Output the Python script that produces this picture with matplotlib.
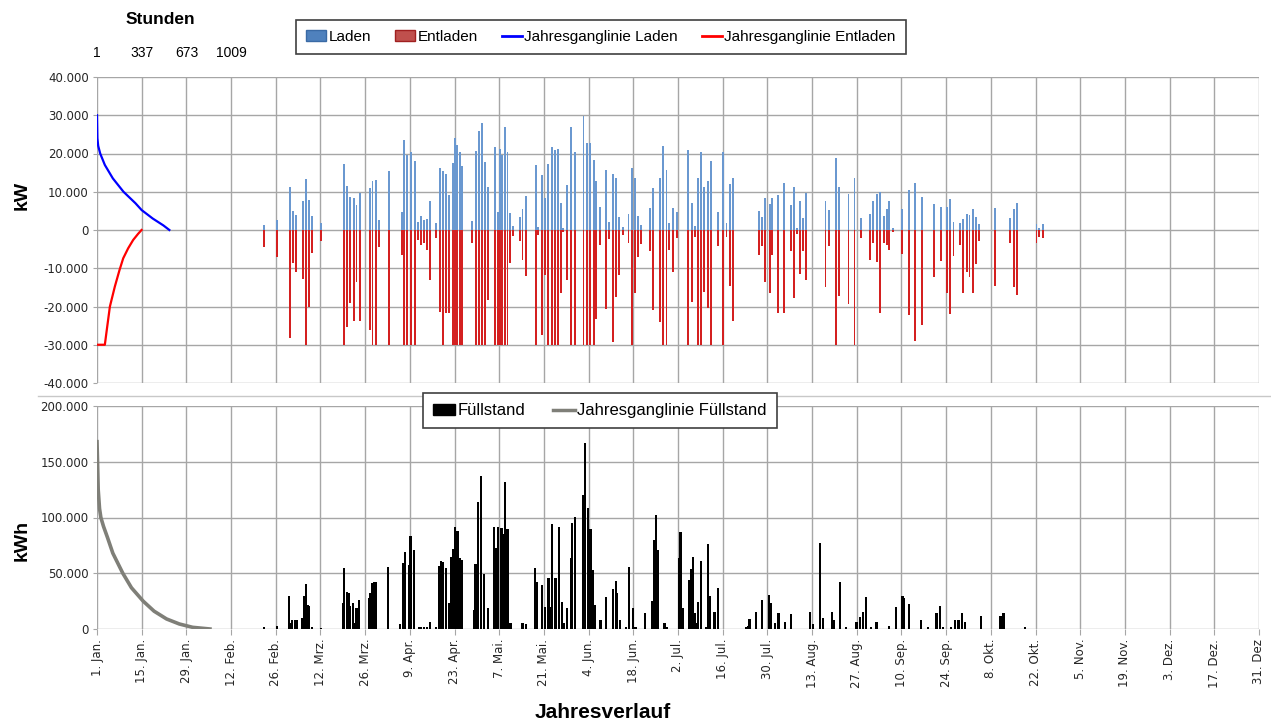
import matplotlib
matplotlib.use("Agg")
import matplotlib.pyplot as plt
from matplotlib.patches import Patch
from matplotlib.lines import Line2D
import numpy as np

# --- Daten ---
tick_labels = ["1. Jan.", "15. Jan.", "29. Jan.", "12. Feb.", "26. Feb.", "12. Mrz.", "26. Mrz.",
               "9. Apr.", "23. Apr.", "7. Mai.", "21. Mai.", "4. Jun.", "18. Jun.", "2. Jul.",
               "16. Jul.", "30. Jul.", "13. Aug.", "27. Aug.", "10. Sep.", "24. Sep.", "8. Okt.",
               "22. Okt.", "5. Nov.", "19. Nov.", "3. Dez.", "17. Dez.", "31. Dez"]
stunden_ticks = [1, 337, 673, 1009]

# Laden / Entladen je Tag (kW)
lade_tag = [52.4, 56.5, 60.5, 61.5, 62.4, 64.5, 65.5, 66.5, 67.3, 70.3, 77.4, 78.3, 79.2, 80.4,
            81.3, 82.5, 85.5, 86.3, 87.4, 88.4, 91.4, 95.4, 96.2, 97.2, 98.5, 99.5, 100.6, 101.4,
            102.4, 103.4, 104.3, 106.2, 107.5, 108.3, 109.3, 110.3, 111.4, 112.2, 112.7, 113.6,
            114.4, 117.6, 118.6, 119.6, 120.6, 121.6, 122.5, 124.6, 125.6, 126.2, 126.9, 127.7,
            128.6, 129.5, 130.3, 132.4, 133.3, 134.3, 137.4, 138.2, 139.3, 140.2, 141.2, 142.4,
            143.5, 144.5, 145.3, 146.1, 147.2, 148.5, 149.6, 152.4, 153.5, 154.5, 155.6, 156.4,
            157.5, 159.5, 160.4, 161.6, 162.5, 163.5, 164.7, 166.5, 167.5, 168.6, 169.4, 170.4,
            173.2, 174.3, 176.3, 177.4, 178.4, 179.3, 180.3, 181.6, 185.2, 186.3, 187.3, 188.4,
            189.2, 190.2, 191.3, 192.3, 194.4, 196.2, 197.2, 198.3, 199.1, 207.5, 208.2, 209.2,
            210.8, 211.5, 213.3, 215.3, 217.3, 218.3, 219.4, 220.2, 221.2, 222.1, 228.2, 229.2,
            231.4, 232.4, 235.4, 237.3, 239.3, 242.2, 243.2, 244.3, 245.3, 246.4, 247.4, 248.2,
            249.3, 252.3, 254.4, 256.3, 258.4, 262.2, 264.3, 266.2, 267.3, 268.3, 270.4, 271.2,
            272.5, 273.3, 274.3, 275.4, 276.3, 281.3, 286.0, 287.2, 288.3, 294.3, 295.1, 296.2]
laden_kw = [1300, 2600, 11200, 5000, 3900, 7700, 13300, 7800, 3700, 1700, 17200, 11500, 8500, 8300,
            6500, 9600, 10900, 12900, 13200, 2600, 15300, 4800, 23500, 19600, 20500, 18100, 2200, 3700,
            2600, 2800, 7700, 1700, 16100, 15300, 14600, 9100, 17600, 24000, 22200, 20500,
            16700, 2400, 20700, 26000, 27900, 17900, 11200, 21600, 4800, 21100, 19600, 27000,
            20500, 4500, 1000, 3500, 5400, 8900, 17000, 800, 14300, 8300, 17200, 21800,
            20900, 21300, 7100, 500, 11800, 26800, 20500, 29800, 22800, 22800, 18300, 12700,
            6100, 15800, 2200, 14600, 13500, 3500, 800, 4200, 16300, 13500, 3700, 1300,
            5800, 10900, 13500, 22000, 15700, 1700, 5700, 4800, 20900, 7100, 1000, 13500,
            20500, 11300, 12900, 18100, 4700, 20500, 1700, 12100, 13500, 5000, 3500, 8300,
            6800, 8300, 9100, 12200, 6500, 11200, 500, 7700, 3100, 9600, 7700, 5200,
            18700, 11200, 9400, 13500, 3100, 4200, 7700, 9400, 10000, 3700, 5400, 7700,
            500, 5400, 10500, 12400, 8500, 6800, 5900, 6100, 8000, 2200, 1900, 2800,
            4200, 3900, 5400, 3500, 1600, 5700, 3100, 5400, 7000, 1600, 500, 1600]
entladen_kw = [-4500, -7000, -28300, -8700, -10900, -12900, -30000, -20000, -6100, -2800, -30000, -25300, -19000, -23700,
               -13700, -23700, -26100, -30000, -30000, -4400, -30000, -6500, -30000, -30000, -30000, -30000, -2600, -3900,
               -3500, -5200, -13200, -2200, -21400, -30000, -21800, -21800, -30000, -30000, -30000, -30000,
               -30000, -3500, -30000, -30000, -30000, -30000, -18400, -30000, -30000, -30000, -30000, -30000,
               -30000, -8700, -1500, -3000, -7800, -11900, -30000, -1200, -27400, -11700, -30000, -30000,
               -30000, -30000, -16500, -500, -13000, -30000, -30000, -30000, -30000, -30000, -30000, -23300,
               -3900, -20700, -2400, -29400, -17500, -11700, -1300, -3500, -30000, -16500, -7000, -3700,
               -5400, -20900, -24000, -30000, -30000, -5200, -10900, -2200, -30000, -18900, -1700, -30000,
               -30000, -16100, -20500, -30000, -4200, -30000, -1700, -14600, -23700, -6500, -4200, -13700,
               -16600, -6500, -21600, -21600, -5400, -17800, -1000, -11500, -5400, -13200, -14800, -4200,
               -30000, -17200, -19300, -30000, -2200, -7800, -3300, -8300, -21800, -3300, -3900, -5200,
               -500, -6300, -22200, -28900, -24800, -12400, -8000, -16500, -22000, -6800, -3900, -16400,
               -11100, -12200, -16400, -8900, -2800, -14600, -3300, -15000, -17000, -3300, -1900, -2200]

# Füllstand je Tag (kWh)
fuell_tag = [52.3, 56.3, 60.2, 60.8, 61.1, 62.0, 62.5, 64.4, 65.0, 65.4, 66.0, 66.5, 67.3, 70.1,
             77.0, 77.3, 78.4, 78.8, 79.2, 80.2, 81.0, 81.3, 82.1, 85.1, 85.6, 86.2, 86.7, 87.3,
             91.1, 95.0, 95.9, 96.5, 97.7, 98.2, 99.2, 100.8, 101.6, 102.5, 103.4, 104.3, 106.3,
             107.3, 107.8, 108.4, 109.4, 110.2, 111.0, 111.5, 112.2, 112.9, 113.6, 114.4, 118.0,
             118.6, 119.4, 120.4, 121.2, 122.5, 124.4, 124.9, 125.5, 126.7, 127.4, 127.8, 128.6,
             129.5, 133.3, 134.4, 137.3, 137.7, 139.4, 140.3, 141.4, 142.0, 142.6, 143.4, 143.9,
             144.8, 145.7, 146.2, 147.2, 148.4, 148.9, 149.8, 152.2, 152.8, 153.8, 154.6, 155.4,
             156.1, 157.7, 159.4, 161.7, 162.5, 163.0, 163.8, 165.6, 166.6, 168.0, 168.7, 171.6,
             173.9, 174.4, 175.0, 175.8, 177.8, 178.6, 182.4, 182.8, 183.6, 185.4, 186.0, 186.6,
             187.3, 187.8, 188.3, 189.1, 190.9, 191.5, 192.0, 193.4, 194.6, 203.2, 204.0, 204.4,
             206.5, 208.3, 210.4, 211.0, 212.3, 213.5, 215.6, 217.5, 223.4, 224.4, 226.4, 227.4,
             230.2, 230.7, 232.7, 234.6, 237.9, 239.0, 240.0, 241.0, 242.4, 244.2, 248.0, 250.4,
             252.3, 252.8, 254.3, 258.1, 260.2, 263.0, 264.0, 265.1, 267.4, 268.7, 269.9, 270.9,
             271.9, 276.9, 283.0, 284.0, 290.8]
fuell_kwh = [1500, 2700, 29600, 5700, 8100, 8100, 8100, 9600, 29600, 40100, 21600, 20700, 1500, 600,
             23000, 54500, 33500, 32000, 20700, 23000, 5000, 18600, 26000, 27500, 32600, 41600, 42500, 42500,
             56000, 4500, 59600, 69500, 57500, 83500, 71000, 1500, 1500, 1500, 1500, 6600, 1500,
             56900, 61400, 59900, 54500, 23000, 65000, 71900, 91900, 88300, 63500, 62000, 17100,
             58100, 113500, 136800, 49400, 18600, 91300, 72500, 91300, 90400, 85300, 131400, 89800,
             5700, 5700, 4500, 54500, 42500, 39500, 20000, 45500, 20000, 94300, 45500, 45500,
             91300, 23900, 5700, 18600, 63500, 95500, 100300, 120400, 166800, 108400, 89500, 53000,
             21600, 8100, 29000, 35600, 43400, 32600, 8100, 2000, 56000, 18600, 2000, 14700,
             25400, 79900, 102400, 71000, 5700, 2000, 63500, 87400, 18600, 44000, 53600, 65000,
             14700, 5000, 24600, 61400, 2000, 76300, 29600, 15600, 36500, 2000, 2700, 9000,
             15600, 26000, 30500, 23000, 5100, 14700, 6600, 13500, 15600, 4500, 77000, 9600,
             15600, 8100, 41900, 1500, 6600, 11100, 15600, 29000, 1500, 6600, 2500, 20000,
             29600, 27500, 22500, 8100, 2000, 14100, 20700, 2000, 2000, 8100, 8100, 14700,
             6600, 11700, 11700, 14700, 1500]

# Jahresganglinien (sortiert, über Stunden)
gl_laden_h = [1, 4, 10, 25, 60, 120, 200, 290, 337, 420, 500, 545]
gl_laden_kw = [30000, 24000, 22000, 20000, 17000, 13500, 10000, 7000, 5200, 3000, 1200, 0]
gl_entladen_h = [1, 60, 75, 98, 135, 170, 198, 235, 273, 310, 336]
gl_entladen_kw = [-30000, -30000, -26000, -20000, -14800, -10500, -7400, -4800, -2600, -1000, 0]
gl_fuell_h = [1, 5, 10, 20, 30, 50, 80, 120, 195, 260, 348, 430, 524, 620, 720, 850]
gl_fuell_kwh = [168000, 150000, 125000, 108000, 100000, 92000, 82000, 68000, 50000, 37000, 25000,
                16000, 9000, 4500, 1500, 0]

# --- Plot ---
fw, fh = 1271, 725
fig = plt.figure(figsize=(fw / 100, fh / 100), dpi=100)
fam = ["Liberation Sans", "DejaVu Sans"]

def fmt(v):
    return "0" if v == 0 else f"{int(v):,}".replace(",", ".")

def ax_rect(x0, y0, x1, y1):
    return [x0 / fw, 1 - y1 / fh, (x1 - x0) / fw, (y1 - y0) / fh]

grid_c = "#A6A6A6"
xt = np.arange(0, 365, 14)

ax1 = fig.add_axes(ax_rect(97, 77, 1259, 383))
ax2 = fig.add_axes(ax_rect(97, 406, 1259, 629))

for ax in (ax1, ax2):
    ax.set_xlim(0, 364)
    ax.set_xticks(xt)
    ax.grid(True, color=grid_c, lw=1)
    ax.set_axisbelow(True)
    for s in ax.spines.values():
        s.set_visible(False)
    ax.tick_params(axis="y", length=3, color=grid_c, labelsize=8.5, pad=3, labelcolor="#262626")

ax1.bar(lade_tag, laden_kw, width=0.6, color="#6A98D0", linewidth=0)
ax1.bar(lade_tag, entladen_kw, width=0.6, color="#D42020", linewidth=0)
ax1.set_ylim(-40000, 40000)
yt1 = np.arange(-40000, 40001, 10000)
ax1.set_yticks(yt1)
ax1.set_yticklabels([fmt(v) for v in yt1])
ax1.tick_params(axis="x", length=0, labelbottom=False)

ax1t = ax1.twiny()
ax1t.set_xlim(1, 1 + 364 * 24)
ax1t.plot(gl_laden_h, gl_laden_kw, color="#0000FF", lw=1.6)
ax1t.plot(gl_entladen_h, gl_entladen_kw, color="#FF0000", lw=1.6)
ax1t.set_xticks(stunden_ticks)
ax1t.set_xticklabels([str(s) for s in stunden_ticks])
ax1t.tick_params(axis="x", length=0, pad=12, labelsize=10)
for lab in ax1t.get_xticklabels():
    lab.set_family(fam)
for s in ax1t.spines.values():
    s.set_visible(False)

ax2.bar(fuell_tag, fuell_kwh, width=0.7, color="black", linewidth=0)
ax2.set_ylim(0, 200000)
yt2 = np.arange(0, 200001, 50000)
ax2.set_yticks(yt2)
ax2.set_yticklabels([fmt(v) for v in yt2])
ax2.set_xticklabels(tick_labels, rotation=90, fontsize=8.5, va="top", ha="center", color="#262626")
ax2.tick_params(axis="x", length=4, color=grid_c, pad=3)

ax2t = ax2.twiny()
ax2t.set_xlim(1, 1 + 364 * 24)
ax2t.plot(gl_fuell_h, gl_fuell_kwh, color="#7F7F78", lw=2.6)
ax2t.set_xticks([])
for s in ax2t.spines.values():
    s.set_visible(False)

# Trennlinie zwischen den Diagrammen
fig.add_artist(Line2D([38 / fw, 1], [1 - 396 / fh, 1 - 396 / fh], color="#C8C8C8", lw=1))

fig.text(160 / fw, 1 - 20 / fh, "Stunden", ha="center", va="center", fontsize=12.5,
         fontweight="bold", family=fam)
fig.text(22 / fw, 1 - 195 / fh, "kW", rotation=90, ha="center", va="center", fontsize=14,
         fontweight="bold", family=fam)
fig.text(22 / fw, 1 - 540 / fh, "kWh", rotation=90, ha="center", va="center", fontsize=14,
         fontweight="bold", family=fam)
fig.text(603 / fw, 1 - 712 / fh, "Jahresverlauf", ha="center", va="center", fontsize=15,
         fontweight="bold", family=fam)

h1 = [Patch(facecolor="#4F81BD", edgecolor="#3A6AA5"),
      Patch(facecolor="#C0504D", edgecolor="#A02020"),
      Line2D([], [], color="#0000FF", lw=2),
      Line2D([], [], color="#FF0000", lw=2)]
leg1 = fig.legend(h1, ["Laden", "Entladen", "Jahresganglinie Laden", "Jahresganglinie Entladen"],
                  loc="center", bbox_to_anchor=(601 / fw, 1 - 37 / fh), ncol=4, frameon=True,
                  fancybox=False, edgecolor="#404040", framealpha=1, handlelength=1.3,
                  handletextpad=0.15, columnspacing=1.6, borderpad=0.65,
                  prop={"family": fam, "size": 11})
leg1.get_frame().set_linewidth(1.2)

h2 = [Patch(facecolor="black", edgecolor="black"),
      Line2D([], [], color="#7F7F78", lw=2.5)]
leg2 = fig.legend(h2, ["Füllstand", "Jahresganglinie Füllstand"],
                  loc="center", bbox_to_anchor=(600 / fw, 1 - 411 / fh), ncol=2, frameon=True,
                  fancybox=False, edgecolor="#404040", framealpha=1, handlelength=1.3,
                  handletextpad=0.15, columnspacing=1.7, borderpad=0.6,
                  prop={"family": fam, "size": 12})
leg2.get_frame().set_linewidth(1.2)

fig.savefig("out.png", dpi=100, facecolor="white")
